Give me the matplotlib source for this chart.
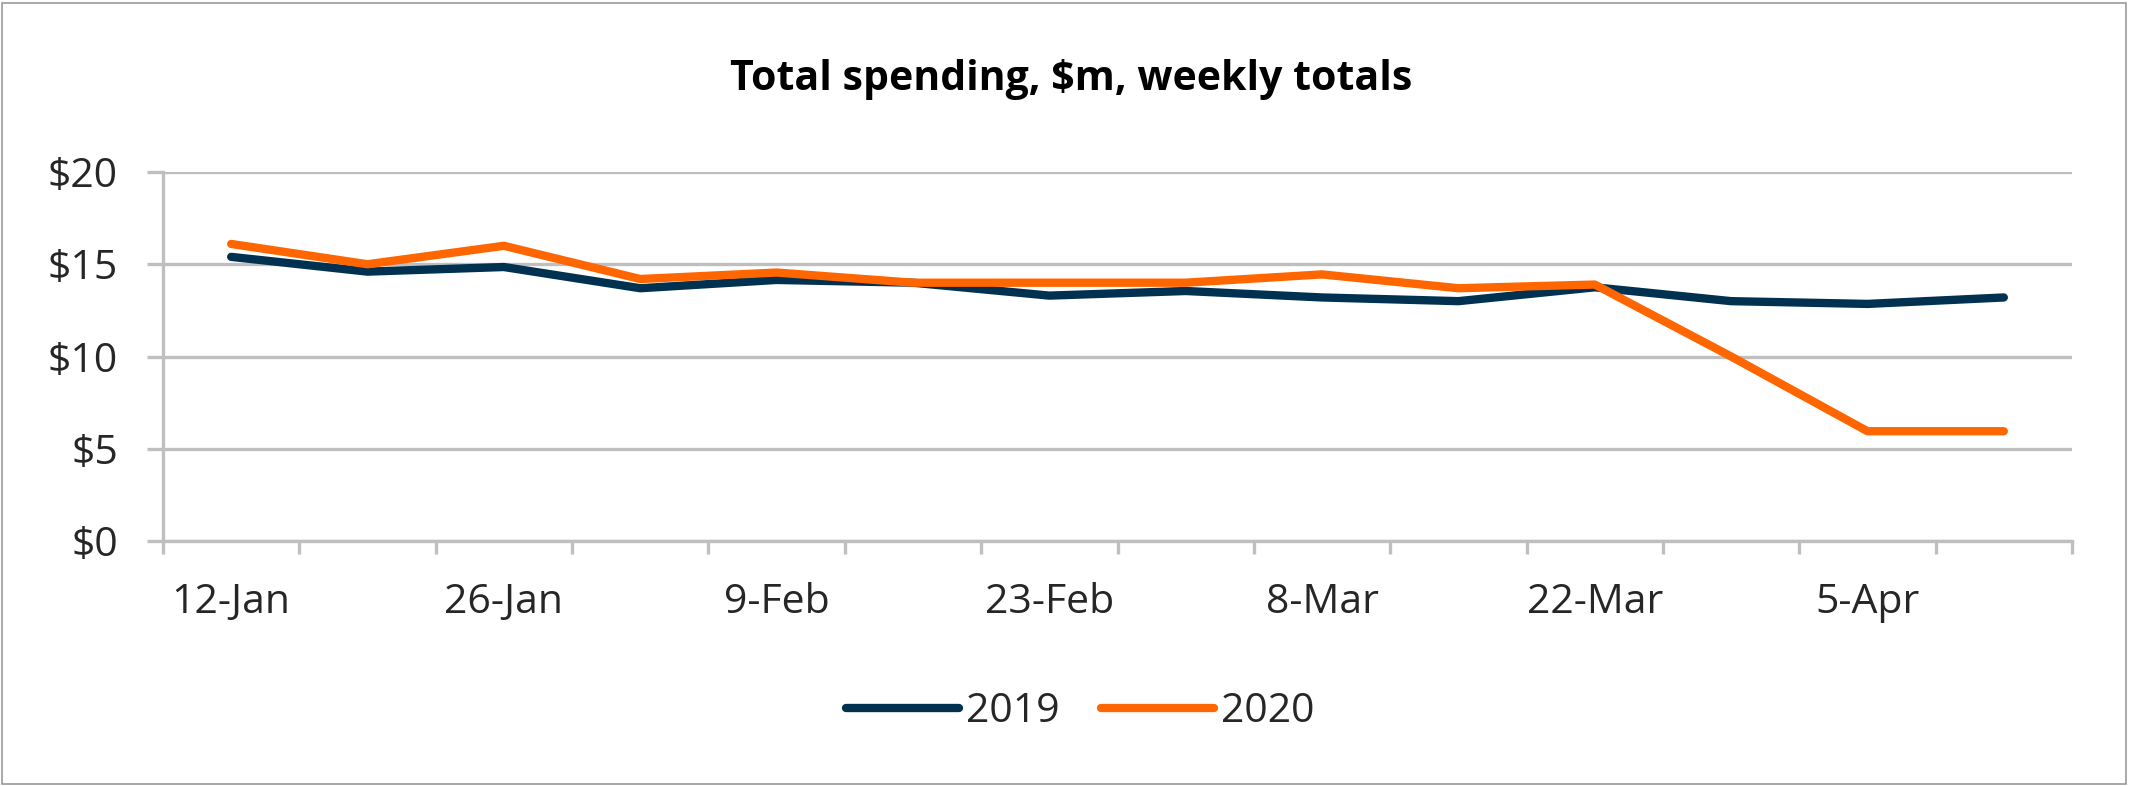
import matplotlib
matplotlib.use("Agg")
import matplotlib.pyplot as plt
from matplotlib.patches import Rectangle
from matplotlib.ticker import FixedLocator

weeks = ["12-Jan", "19-Jan", "26-Jan", "2-Feb", "9-Feb", "16-Feb", "23-Feb",
         "1-Mar", "8-Mar", "15-Mar", "22-Mar", "29-Mar", "5-Apr", "12-Apr"]
spend_2019 = [15.4, 14.6, 14.85, 13.7, 14.15, 14.0, 13.3, 13.55, 13.2, 13.0, 13.75, 13.0, 12.85, 13.2]
spend_2020 = [16.1, 15.0, 16.0, 14.2, 14.55, 14.0, 14.0, 14.0, 14.45, 13.7, 13.9, 10.0, 5.95, 5.95]
y_ticks = [0, 5, 10, 15, 20]
y_labels = ["$0", "$5", "$10", "$15", "$20"]

plt.rcParams['font.family'] = ['Open Sans', 'DejaVu Sans']

W, H = 2129, 786
fig = plt.figure(figsize=(W / 100, H / 100), dpi=100)
fig.patch.set_facecolor("white")
fig.patches.append(Rectangle((2 / W, 2 / H), 1 - 5 / W, 1 - 5 / H, transform=fig.transFigure,
                             fill=False, edgecolor="#9a9a9a", linewidth=1.2))

ax = fig.add_axes([163 / W, 1 - 541 / H, (2072 - 163) / W, (541 - 172) / H])
x = list(range(len(weeks)))
ln1, = ax.plot(x, spend_2019, color="#003150", linewidth=6, solid_capstyle="round",
               solid_joinstyle="round", label="2019", zorder=3)
ln2, = ax.plot(x, spend_2020, color="#FF6600", linewidth=6, solid_capstyle="round",
               solid_joinstyle="round", label="2020", zorder=4)

ax.set_xlim(-0.5, len(weeks) - 0.5)
ax.set_ylim(0, 20)
ax.set_yticks(y_ticks)
ax.set_yticklabels(y_labels)
ax.yaxis.grid(True, color="#BFBFBF", linewidth=2.4)
ax.set_axisbelow(True)
for s in ["top", "right"]:
    ax.spines[s].set_visible(False)
ax.spines["left"].set_color("#BFBFBF")
ax.spines["left"].set_linewidth(2.4)
ax.spines["bottom"].set_color("#BFBFBF")
ax.spines["bottom"].set_linewidth(2.4)

ax.set_xticks(x[::2])
ax.set_xticklabels(weeks[::2])
ax.xaxis.set_minor_locator(FixedLocator([i - 0.5 for i in range(len(weeks) + 1)]))
ax.tick_params(axis="x", which="major", length=0, pad=30, labelsize=29.5, labelcolor="#262626")
ax.tick_params(axis="x", which="minor", length=9, width=2.4, color="#BFBFBF")
ax.tick_params(axis="y", length=11.5, width=2.4, color="#BFBFBF", pad=21, labelsize=29.5,
               labelcolor="#262626")

fig.text(1071 / W, 1 - 79 / H, "Total spending, $m, weekly totals", ha="center", va="center",
         fontsize=29.5, fontweight="bold", color="black")

fig.legend(handles=[ln1, ln2], loc="center", bbox_to_anchor=(1080 / W, 1 - 712 / H),
           ncol=2, frameon=False, fontsize=29.5, handlelength=2.76, columnspacing=1.0,
           handletextpad=0.17, labelcolor="#262626")

fig.savefig("out.png", dpi=100, facecolor="white")
